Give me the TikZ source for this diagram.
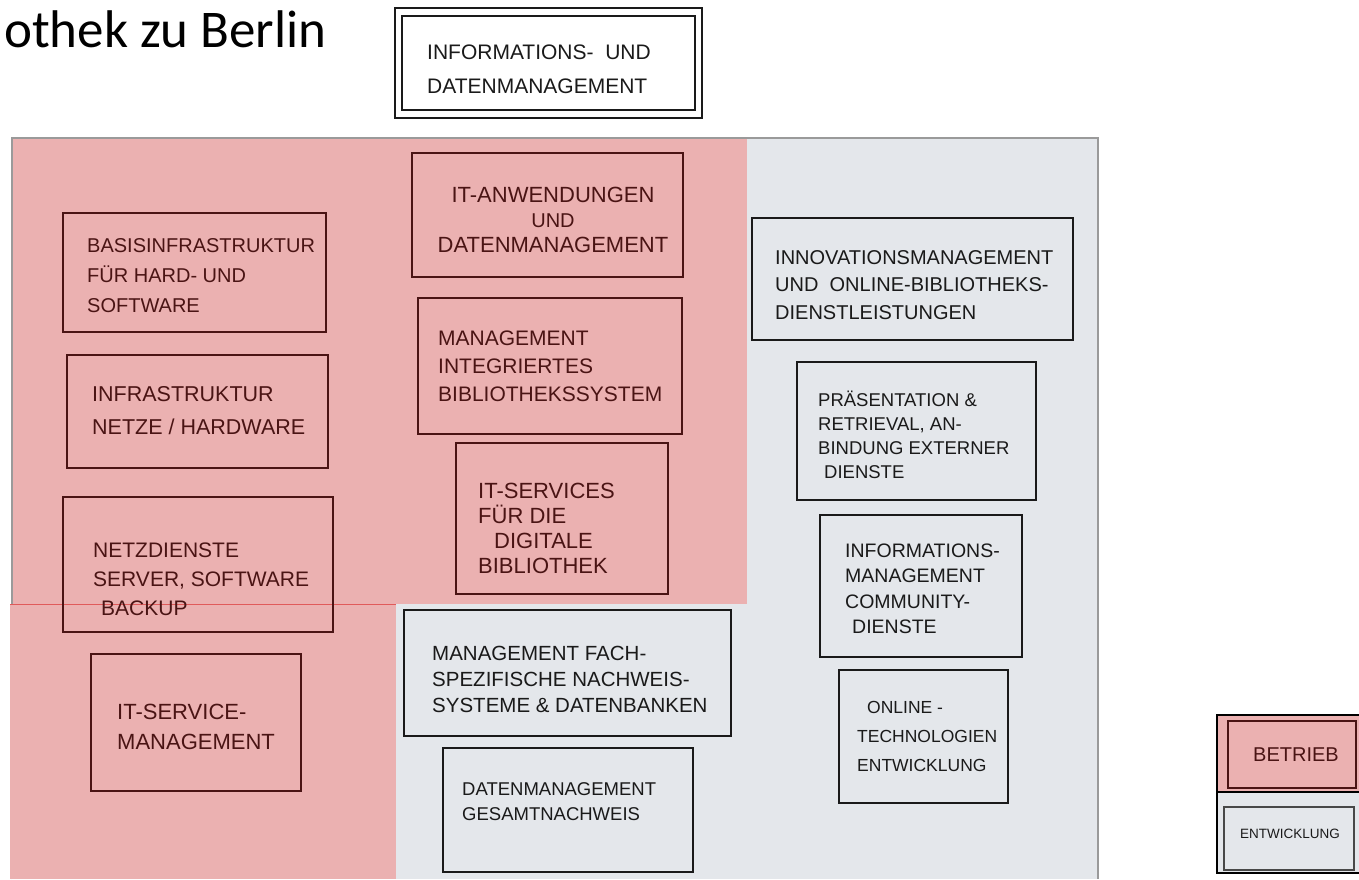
\documentclass[tikz,border=0pt]{standalone}
\usepackage{fontspec}
\setmainfont{Liberation Sans}
\newfontfamily\titlefont{Carlito}
\usetikzlibrary{fit}
\definecolor{pinkbg}{HTML}{EBB1B1}
\definecolor{graybg}{HTML}{E4E7EB}
\definecolor{grayline}{HTML}{9A9A9A}
\definecolor{maroon}{HTML}{4A1414}
\definecolor{ink}{HTML}{1A1A1A}
\definecolor{redline}{HTML}{E05A5A}
\newcommand\fs[2]{\fontsize{#1}{#2}\selectfont}
\begin{document}
\begin{tikzpicture}[x=1pt,y=-1pt,
  pbox/.style={draw=maroon, line width=2.2pt, inner sep=0pt, outer sep=0pt},
  gbox/.style={draw=ink, line width=2.2pt, inner sep=0pt, outer sep=0pt},
  ptext/.style={text=maroon, anchor=west, align=left, inner sep=0pt},
  gtext/.style={text=ink, anchor=west, align=left, inner sep=0pt}]
\useasboundingbox (0,0) rectangle (1359,879);

% background regions
\fill[graybg] (12,138) rectangle (1098,879);
\fill[pinkbg] (12,139) rectangle (747,604);
\draw[grayline, line width=1.5pt] (12,879) -- (12,138) -- (1098,138) -- (1098,879);
\fill[pinkbg] (10,604) rectangle (396,879);
\draw[redline, line width=0.8pt] (10,604) -- (396,604);

% title fragment
\node[anchor=base west, inner sep=0pt, font=\titlefont\fs{53}{60}] (title) at (4,47) {othek zu Berlin};

% top box (double frame)
\coordinate (T1) at (395,8); \coordinate (T2) at (702,118);
\coordinate (T3) at (402,16); \coordinate (T4) at (695,110);
\node[gbox, fill=white, line width=1.8pt, fit=(T1)(T2)] (topout) {};
\node[gbox, line width=1.8pt, fit=(T3)(T4)] (topin) {};
\node[gtext, font=\fs{21}{34}] (topt) at (427,69) {INFORMATIONS-\ \ UND\\DATENMANAGEMENT};

% pink area boxes
\coordinate (A1) at (63,213); \coordinate (A2) at (326,332);
\node[pbox, fit=(A1)(A2)] (A) {};
\node[ptext, font=\fs{20}{30}] (At) at (87,276) {BASISINFRASTRUKTUR\\FÜR HARD- UND\\SOFTWARE};

\coordinate (B1) at (67,355); \coordinate (B2) at (328,468);
\node[pbox, fit=(B1)(B2)] (B) {};
\node[ptext, font=\fs{21.5}{33}] (Bt) at (92,411) {INFRASTRUKTUR\\NETZE / HARDWARE};

\coordinate (C1) at (63,497); \coordinate (C2) at (333,632);
\node[pbox, fit=(C1)(C2)] (C) {};
\node[ptext, font=\fs{21}{29}] (Ct) at (93,579) {NETZDIENSTE\\SERVER, SOFTWARE\\\hspace*{8pt}BACKUP};

\coordinate (D1) at (91,654); \coordinate (D2) at (301,791);
\node[pbox, fit=(D1)(D2)] (D) {};
\node[ptext, font=\fs{22}{30}] (Dt) at (117,727) {IT-SERVICE-\\MANAGEMENT};

\coordinate (E1) at (412,153); \coordinate (E2) at (683,277);
\node[pbox, fit=(E1)(E2)] (E) {};
\node[ptext, anchor=center, align=center, font=\fs{22}{25}] (Et) at (553,220) {IT-ANWENDUNGEN\\{\fs{20}{22}UND}\\DATENMANAGEMENT};

\coordinate (F1) at (418,298); \coordinate (F2) at (682,434);
\node[pbox, fit=(F1)(F2)] (F) {};
\node[ptext, font=\fs{21}{28}] (Ft) at (438,366) {MANAGEMENT\\INTEGRIERTES\\BIBLIOTHEKSSYSTEM};

\coordinate (G1) at (456,443); \coordinate (G2) at (668,594);
\node[pbox, fit=(G1)(G2)] (G) {};
\node[ptext, font=\fs{22}{25}] (Gt) at (478,528) {IT-SERVICES\\FÜR DIE\\\hspace*{16pt}DIGITALE\\BIBLIOTHEK};

% gray area boxes
\coordinate (H1) at (752,218); \coordinate (H2) at (1073,340);
\node[gbox, fit=(H1)(H2)] (H) {};
\node[gtext, font=\fs{20}{27.5}] (Ht) at (775,285) {INNOVATIONSMANAGEMENT\\UND\ \ ONLINE-BIBLIOTHEKS-\\DIENSTLEISTUNGEN};

\coordinate (I1) at (797,362); \coordinate (I2) at (1036,500);
\node[gbox, fit=(I1)(I2)] (I) {};
\node[gtext, font=\fs{18.5}{24}] (It) at (818,435) {PRÄSENTATION \&\\RETRIEVAL, AN-\\BINDUNG EXTERNER\\\hspace*{6pt}DIENSTE};

\coordinate (J1) at (820,515); \coordinate (J2) at (1022,657);
\node[gbox, fit=(J1)(J2)] (J) {};
\node[gtext, font=\fs{19.5}{25.5}] (Jt) at (845,589) {INFORMATIONS-\\MANAGEMENT\\COMMUNITY-\\\hspace*{7pt}DIENSTE};

\coordinate (K1) at (839,670); \coordinate (K2) at (1008,803);
\node[gbox, fit=(K1)(K2)] (K) {};
\node[gtext, font=\fs{17.5}{29}] (Kt) at (857,736) {\hspace*{10pt}ONLINE -\\TECHNOLOGIEN\\ENTWICKLUNG};

\coordinate (L1) at (404,610); \coordinate (L2) at (731,736);
\node[gbox, fit=(L1)(L2)] (L) {};
\node[gtext, font=\fs{20.5}{26}] (Lt) at (432,679) {MANAGEMENT FACH-\\SPEZIFISCHE NACHWEIS-\\SYSTEME \& DATENBANKEN};

\coordinate (M1) at (443,748); \coordinate (M2) at (693,872);
\node[gbox, fit=(M1)(M2)] (M) {};
\node[gtext, font=\fs{18.5}{25}] (Mt) at (462,802) {DATENMANAGEMENT\\GESAMTNACHWEIS};

% legend
\fill[pinkbg] (1217,715) rectangle (1359,792);
\fill[graybg] (1217,792) rectangle (1359,873);
\draw[black, line width=2pt] (1362,715) -- (1217,715) -- (1217,873) -- (1362,873);
\draw[black, line width=2pt] (1217,792) -- (1362,792);
\coordinate (N1) at (1228,721); \coordinate (N2) at (1356,788);
\node[pbox, line width=1.2pt, fit=(N1)(N2)] (N) {};
\node[ptext, anchor=center, font=\fs{20}{24}] (Nt) at (1296,755) {BETRIEB};
\coordinate (O1) at (1224,807); \coordinate (O2) at (1354,870);
\node[gbox, line width=1.2pt, draw=ink!80, fit=(O1)(O2)] (O) {};
\node[gtext, anchor=center, font=\fs{13.5}{16}] (Ot) at (1290,834) {ENTWICKLUNG};
\end{tikzpicture}
\end{document}
